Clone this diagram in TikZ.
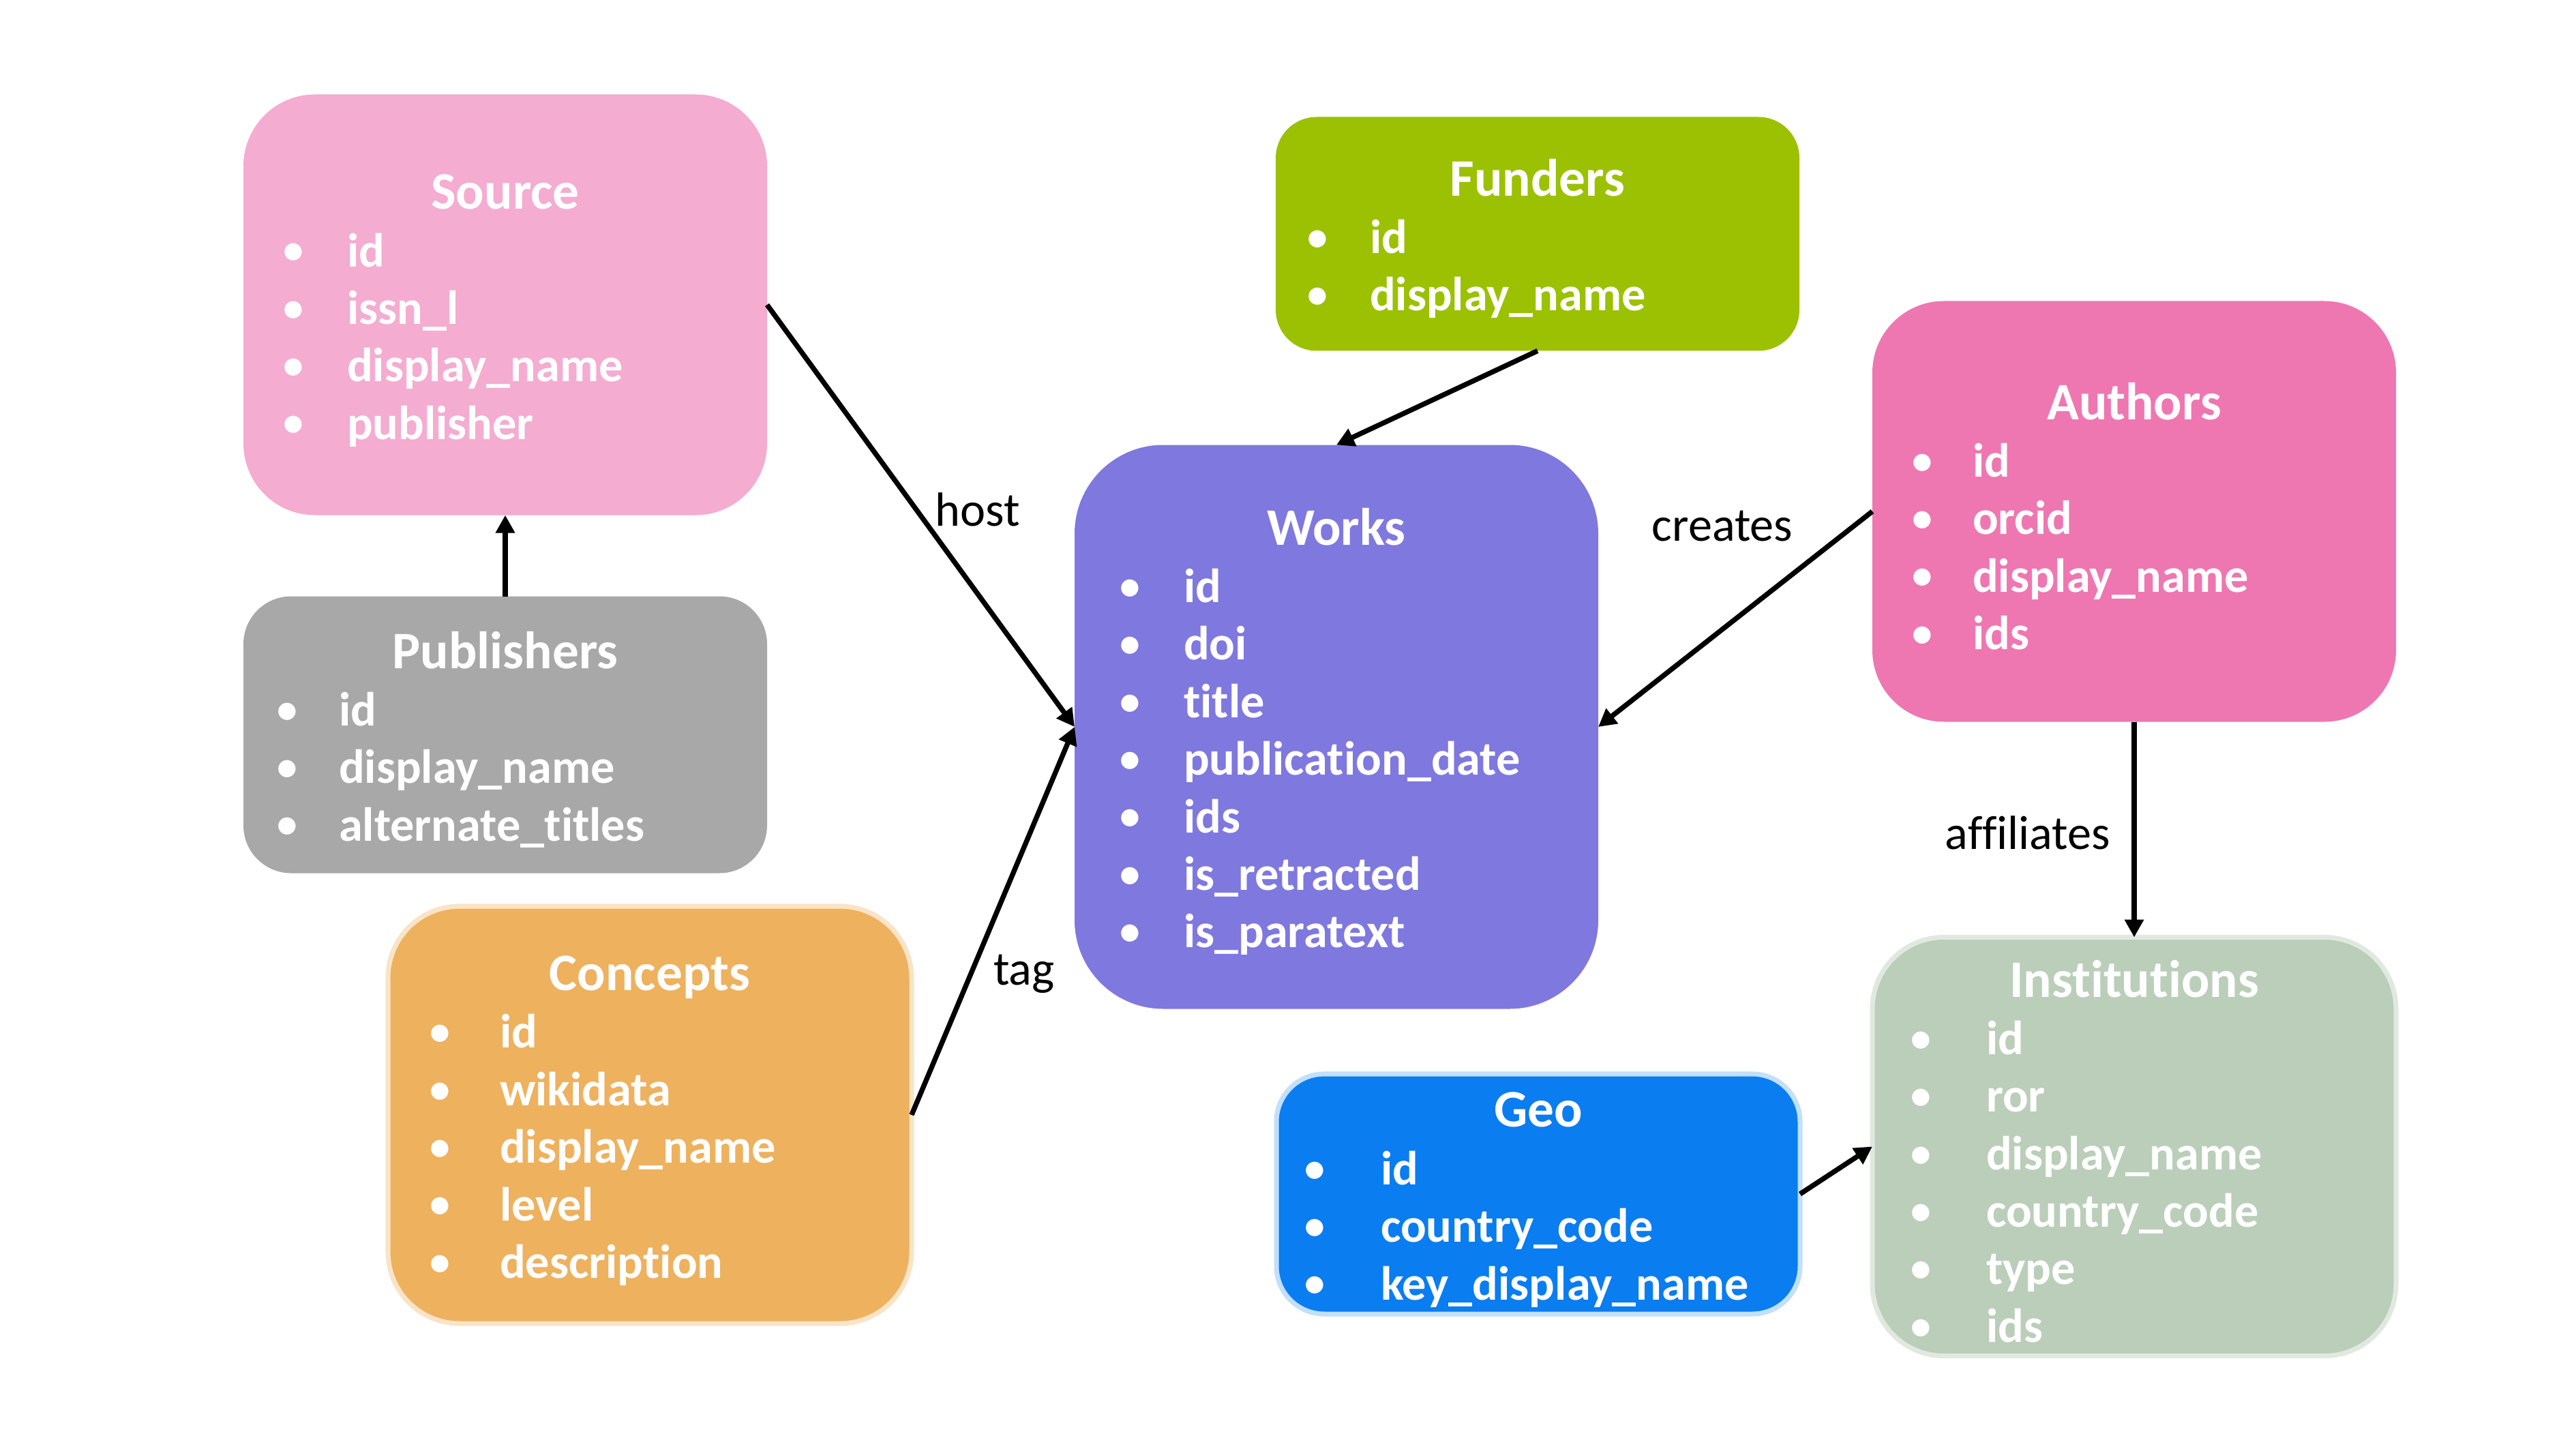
\documentclass[tikz,border=0pt]{standalone}
\usepackage{fontspec}
\setmainfont{Carlito}[Ligatures=NoCommon]
\usetikzlibrary{positioning, arrows.meta}
\definecolor{sourcepink}{HTML}{F4ACD1}
\definecolor{pubgrey}{HTML}{A8A8A8}
\definecolor{conceptorange}{HTML}{EEB15E}
\definecolor{funderlime}{HTML}{9BC102}
\definecolor{workpurple}{HTML}{7F78DF}
\definecolor{authorpink}{HTML}{EE77B1}
\definecolor{instgreen}{HTML}{BACEB9}
\definecolor{geoblue}{HTML}{0A7DF0}
\setlength{\parindent}{0pt}
\newlength{\bulletindent}
\newlength{\fieldindent}
\newcommand{\field}[1]{\makebox[\fieldindent][l]{\hspace*{\bulletindent}\raisebox{1.2pt}{\fontsize{17}{24}\selectfont\textbullet}}#1}
\newcommand{\entitle}[1]{\makebox[\hsize][c]{\rule{0pt}{0.68cm}\fontsize{22}{24}\selectfont #1}}

\begin{document}
\begin{tikzpicture}[
  entity/.style={
    rectangle,
    rounded corners=1.05cm,
    text=white,
    font=\fontsize{20}{24}\selectfont\bfseries,
    align=left,
    inner sep=0pt,
    outer sep=0pt,
    text width=7.68cm,
    minimum width=7.68cm
  },
  indents/.code 2 args={\setlength{\bulletindent}{#1}\setlength{\fieldindent}{#2}},
  link/.style={-{Triangle[length=2.6mm, width=2.7mm]}, line width=2.1pt},
  relation/.style={font=\fontsize{20}{24}\selectfont, anchor=base}
]
  \useasboundingbox (0,0) rectangle (37.78,-21.25);
  \fill[white] (0,0) rectangle (37.78,-21.25);

  % --- entity boxes ---
  \node[entity, fill=sourcepink, minimum height=6.17cm, indents={0.58cm}{1.52cm}]
    (source) at (7.41,-4.47)
    {\entitle{Source}\\ \field{id}\\ \field{issn\_l}\\ \field{display\_name}\\ \field{publisher}};
  \node[entity, fill=pubgrey, minimum height=4.06cm, rounded corners=0.7cm,
        indents={0.49cm}{1.40cm}, below=1.19cm of source]
    (publishers)
    {\entitle{Publishers}\\ \field{id}\\ \field{display\_name}\\ \field{alternate\_titles}};
  \node[entity, fill=conceptorange, draw=conceptorange!35!white, line width=2pt,
        minimum height=6.12cm, indents={0.61cm}{1.64cm}]
    (concepts) at (9.53,-16.35)
    {\entitle{Concepts}\\ \field{id}\\ \field{wikidata}\\ \field{display\_name}\\ \field{level}\\ \field{description}};
  \node[entity, fill=funderlime, minimum height=3.43cm, rounded corners=0.6cm,
        indents={0.46cm}{1.38cm}]
    (funders) at (22.55,-3.43)
    {\entitle{Funders}\\ \field{id}\\ \field{display\_name}};
  \node[entity, fill=workpurple, minimum height=8.27cm, rounded corners=1.3cm,
        indents={0.66cm}{1.60cm}]
    (works) at (19.60,-10.66)
    {\entitle{Works}\\ \field{id}\\ \field{doi}\\ \field{title}\\ \field{publication\_date}\\ \field{ids}\\ \field{is\_retracted}\\ \field{is\_paratext}};
  \node[entity, fill=authorpink, minimum height=6.17cm, indents={0.58cm}{1.47cm}]
    (authors) at (31.30,-7.50)
    {\entitle{Authors}\\ \field{id}\\ \field{orcid}\\ \field{display\_name}\\ \field{ids}};
  \node[entity, fill=instgreen, draw=instgreen!45!white, line width=2pt,
        minimum height=6.14cm, indents={0.56cm}{1.67cm}, below=3.16cm of authors]
    (institutions)
    {\entitle{Institutions}\\ \field{id}\\ \field{ror}\\ \field{display\_name}\\ \field{country\_code}\\ \field{type}\\ \field{ids}};
  \node[entity, fill=geoblue, draw=geoblue!25!white, line width=2pt,
        minimum height=3.52cm, rounded corners=0.7cm, indents={0.41cm}{1.53cm}]
    (geo) at (22.56,-17.51)
    {\entitle{Geo}\\ \field{id}\\ \field{country\_code}\\ \field{key\_display\_name}};

  % --- connectors ---
  \foreach \a/\b in {source.east/works.west, concepts.east/works.west,
                     publishers.north/source.south, funders.south/works.north,
                     authors.west/works.east, authors.south/institutions.north,
                     geo.east/institutions.west}
    \draw[link] (\a) -- (\b);

  % --- relation labels ---
  \node[relation] (hostlbl)      at (14.34,-7.71)  {host};
  \node[relation] (createslbl)   at (25.26,-7.93)  {creates};
  \node[relation] (affiliatelbl) at (29.74,-12.45) {affiliates};
  \node[relation] (taglbl)       at (15.02,-14.44) {tag};

\end{tikzpicture}
\end{document}
